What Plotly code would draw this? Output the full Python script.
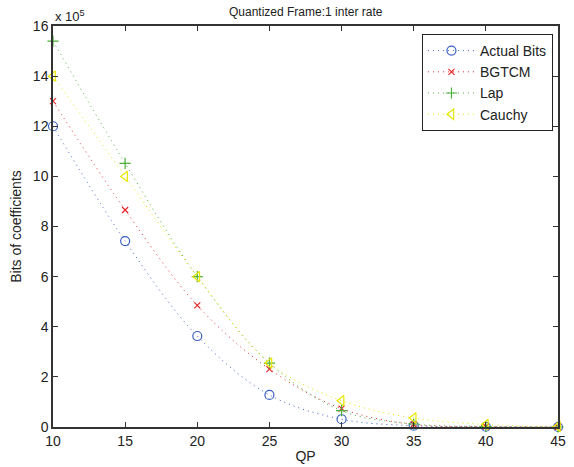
import plotly.graph_objects as go

# Quantization parameter values
qp = [10, 15, 20, 25, 30, 35, 40, 45]

# Bits of coefficients, in units of 1e5
actual_bits = [12.0, 7.42, 3.63, 1.28, 0.31, 0.05, 0.01, 0.0]
bgtcm = [13.0, 8.66, 4.85, 2.31, 0.73, 0.10, 0.02, 0.0]
lap = [15.4, 10.52, 6.0, 2.55, 0.65, 0.12, 0.02, 0.0]
cauchy = [14.0, 10.0, 6.0, 2.55, 1.05, 0.36, 0.10, 0.02]

x_ticks = [10, 15, 20, 25, 30, 35, 40, 45]
y_ticks = [0, 2, 4, 6, 8, 10, 12, 14, 16]

FONT = "Liberation Sans, Arial, sans-serif"

series = [
    ("Actual Bits", actual_bits, "#3a5fc4", "circle-open", 9),
    ("BGTCM", bgtcm, "#e8262a", "x-thin-open", 6),
    ("Lap", lap, "#4caf3a", "cross-thin-open", 8),
    ("Cauchy", cauchy, "#e6e600", "triangle-left-open", 9),
]

fig = go.Figure()
for name, vals, color, symbol, size in series:
    fig.add_trace(go.Scatter(
        x=qp, y=vals, name=name, mode="lines+markers",
        line=dict(color=color, width=1, dash="1px,4px", shape="spline"),
        marker=dict(symbol=symbol, size=size, color=color,
                    line=dict(color=color, width=1.2)),
        cliponaxis=False,
    ))

axis_common = dict(
    showline=True, linecolor="#333333", linewidth=1.5, mirror="ticks",
    ticks="inside", ticklen=5, tickcolor="#333333", tickwidth=1,
    showgrid=False, zeroline=False, automargin=False,
    tickfont=dict(family=FONT, size=14, color="#222222"),
)

fig.update_xaxes(range=[10, 45], tickvals=x_ticks,
                 title=dict(text="QP", standoff=4,
                            font=dict(family=FONT, size=14, color="#222222")),
                 **axis_common)
fig.update_yaxes(range=[0, 16], tickvals=y_ticks,
                 title=dict(text="Bits of coefficients", standoff=8,
                            font=dict(family=FONT, size=14, color="#222222")),
                 **axis_common)

fig.update_layout(
    width=574, height=467,
    margin=dict(l=53, r=16, t=26, b=40),
    paper_bgcolor="white", plot_bgcolor="white",
    font=dict(family=FONT, size=13, color="#222222"),
    legend=dict(x=0.99, y=0.98, xanchor="right", yanchor="top",
                bgcolor="white", bordercolor="#222222", borderwidth=1,
                font=dict(size=14), itemwidth=47, tracegroupgap=0),
    annotations=[
        dict(text="Quantized Frame:1 inter rate", xref="paper", yref="paper",
             x=0.5, y=1.0, yshift=14, xanchor="center", yanchor="middle",
             showarrow=False, font=dict(size=12, color="#222222")),
        dict(text="x 10<sup>5</sup>", xref="paper", yref="paper",
             x=0.0, y=1.0, yshift=10, xanchor="left", yanchor="middle",
             showarrow=False, font=dict(size=13, color="#222222")),
    ],
)

fig.write_html("out.html")
